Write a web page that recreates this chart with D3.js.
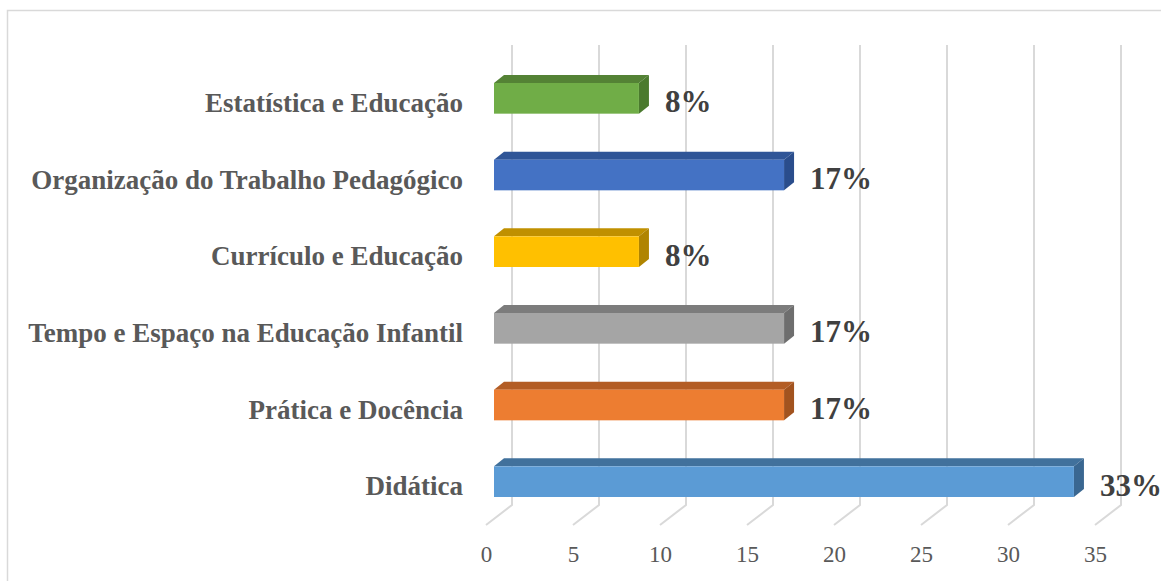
<!DOCTYPE html>
<html>
<head>
<meta charset="utf-8">
<script src="https://cdn.jsdelivr.net/npm/d3@7"></script>
<style>
  html, body { margin: 0; padding: 0; background: #ffffff; }
  svg { display: block; }
</style>
</head>
<body>
<svg id="chart" width="1161" height="581"></svg>
<script>
// Categories listed bottom to top
const categories = [
  "Didática",
  "Prática e Docência",
  "Tempo e Espaço na Educação Infantil",
  "Currículo e Educação",
  "Organização do Trabalho Pedagógico",
  "Estatística e Educação"
];
const values = [33.33, 16.67, 16.67, 8.33, 16.67, 8.33];
const frontColors = ["#5B9BD5", "#ED7D31", "#A5A5A5", "#FFC000", "#4472C4", "#70AD47"];
const topColors   = ["#41719C", "#B35D25", "#7C7C7C", "#C09000", "#2F5597", "#548235"];
const sideColors  = ["#3A6791", "#A2531F", "#6E6E6E", "#B08400", "#2A4D8C", "#4B7A2E"];
const tickValues = [0, 5, 10, 15, 20, 25, 30, 35];

const serif = "'Liberation Serif', 'Times New Roman', serif";
const svg = d3.select("#chart");

// Chart frame
svg.append("rect")
  .attr("x", 7.5).attr("y", 10.5)
  .attr("width", 1170).attr("height", 590)
  .attr("fill", "none").attr("stroke", "#d9d9d9").attr("stroke-width", 1.5);

// Back wall scales
const x = d3.scaleLinear().domain([0, 35]).range([512, 1121]);
const y = d3.scaleBand()
  .domain(categories.slice().reverse())
  .range([46, 506])
  .paddingInner(0.6)
  .paddingOuter(0.3);

// 3D depth offsets (floor front edge, bar front face, bar back face)
const floorDx = -26, floorDy = 20;
const frontDx = -18, frontDy = 14;
const backDx = -8, backDy = 6;
const wallTop = 45, wallBottom = 505;

// Gridlines on the back wall and floor
const grid = svg.append("g").attr("stroke", "#d9d9d9").attr("stroke-width", 2).attr("fill", "none");
grid.selectAll("path").data(tickValues).join("path")
  .attr("d", v => `M${x(v)},${wallTop} L${x(v)},${wallBottom} L${x(v) + floorDx},${wallBottom + floorDy}`);

// Tick labels along the front floor edge
const xFront = x.copy().range(x.range().map(r => r + floorDx));
const xAxis = svg.append("g")
  .attr("transform", `translate(0, ${wallBottom + floorDy + 18})`)
  .attr("font-family", serif)
  .call(d3.axisBottom(xFront).tickValues(tickValues).tickSize(0).tickFormat(d3.format("d")));
xAxis.attr("font-family", serif);
xAxis.select(".domain").remove();
xAxis.selectAll("text")
  .style("font-family", serif)
  .attr("font-size", 23)
  .attr("fill", "#595959");

// Bars
const data = categories.map((c, i) => ({ c, v: values[i], i }));
const bw = y.bandwidth();
const bars = svg.append("g");
data.forEach(d => {
  const x0 = x(0), xv = x(d.v);
  const yt = y(d.c), yb = y(d.c) + bw;
  // top face
  bars.append("path")
    .attr("d", `M${x0 + frontDx},${yt + frontDy} L${x0 + backDx},${yt + backDy} L${xv + backDx},${yt + backDy} L${xv + frontDx},${yt + frontDy} Z`)
    .attr("fill", topColors[d.i]);
  // side face
  bars.append("path")
    .attr("d", `M${xv + frontDx},${yt + frontDy} L${xv + backDx},${yt + backDy} L${xv + backDx},${yb + backDy} L${xv + frontDx},${yb + frontDy} Z`)
    .attr("fill", sideColors[d.i]);
  // front face
  bars.append("rect")
    .attr("x", x0 + frontDx).attr("y", yt + frontDy)
    .attr("width", xv - x0).attr("height", bw)
    .attr("fill", frontColors[d.i]);
});

// Value labels
svg.append("g").selectAll("text").data(data).join("text")
  .attr("x", d => x(d.v) + frontDx + 26)
  .attr("y", d => y(d.c) + frontDy + bw / 2 + 3)
  .attr("dy", "0.35em")
  .style("font-family", serif)
  .attr("font-weight", "bold")
  .attr("font-size", 31)
  .attr("fill", "#404040")
  .text(d => Math.round(d.v) + "%");

// Category labels
const yFront = y.copy().range(y.range().map(r => r + frontDy + 5));
const yAxis = svg.append("g")
  .attr("transform", "translate(472, 0)")
  .call(d3.axisLeft(yFront).tickSize(0).tickPadding(9));
yAxis.attr("font-family", serif);
yAxis.select(".domain").remove();
yAxis.selectAll("text")
  .style("font-family", serif)
  .attr("font-weight", "bold")
  .attr("font-size", 27)
  .attr("fill", "#595959");
</script>
</body>
</html>
